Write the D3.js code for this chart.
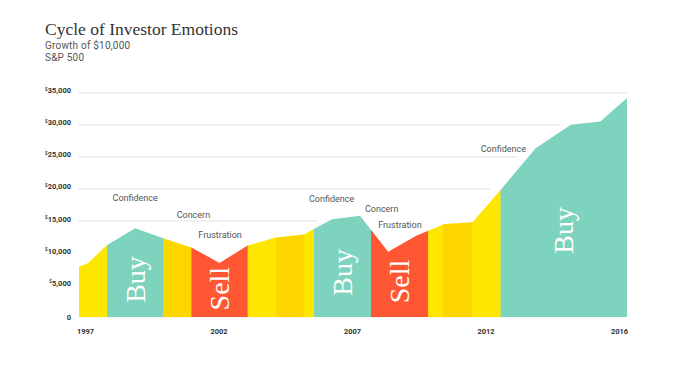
<!DOCTYPE html>
<html>
<head>
<meta charset="utf-8">
<script src="https://cdn.jsdelivr.net/npm/d3@7"></script>
<style>
  body { margin: 0; background: #fff; }
  svg { display: block; }
</style>
</head>
<body>
<svg id="chart" width="675" height="366"></svg>
<script>
// growth of $10,000
const years = [1997, 1997.33, 1998, 1999, 2000, 2001, 2002, 2003, 2004, 2005, 2006, 2007, 2008, 2009, 2010, 2011, 2012, 2013.25, 2014.5, 2015.55, 2016.5];
const values = [7860, 8480, 11250, 13860, 12300, 10890, 8480, 11170, 12420, 12920, 15270, 15830, 10200, 12700, 14530, 14800, 19840, 26360, 30000, 30520, 34170];

// coloured phases
const bandFrom = [1997, 1998, 2000, 2001, 2003, 2004, 2005, 2005.36, 2007.39, 2009.42, 2009.95, 2011, 2012];
const bandTo = [1998, 2000, 2001, 2003, 2004, 2005, 2005.36, 2007.39, 2009.42, 2009.95, 2011, 2012, 2016.5];
const bandKind = ["hold", "buy", "wait", "sell", "hold", "wait", "hold", "buy", "sell", "hold", "wait", "hold", "buy"];

// emotion notes
const noteText = ["Confidence", "Concern", "Frustration", "Confidence", "Concern", "Frustration", "Confidence"];
const noteYear = [1999, 2001.07, 2002.02, 2005.99, 2007.77, 2008.42, 2012.1];
const noteValue = [18600, 15950, 12830, 18440, 16880, 14390, 26230];

const yTicks = [0, 5000, 10000, 15000, 20000, 25000, 30000, 35000];
const yearLabels = ["1997", "2002", "2007", "2012", "2016"];

const kindColor = { hold: "#ffe600", wait: "#fdd600", buy: "#7dd3be", sell: "#ff5634" };
const kindLabel = { buy: "Buy", sell: "Sell" };

let svg = d3.select("#chart");
let data = years.map((y, i) => ({ year: y, value: values[i] }));

let x = d3.scaleLinear().domain([1997, 2016.5]).range([79, 627]);
let y = d3.scaleLinear().domain([0, 35000]).range([317.3, 92.7]);

// value on the line at a given year
function valueAt(yr) {
  let i = d3.bisectRight(years, yr);
  if (i <= 0) return values[0];
  if (i >= years.length) return values[values.length - 1];
  let t = (yr - years[i - 1]) / (years[i] - years[i - 1]);
  return values[i - 1] + t * (values[i] - values[i - 1]);
}

// first x where the line reaches a value
function firstCrossing(v) {
  for (let i = 1; i < data.length; i++) {
    if (data[i - 1].value <= v && data[i].value >= v) {
      let t = (v - data[i - 1].value) / (data[i].value - data[i - 1].value);
      return x(data[i - 1].year + t * (data[i].year - data[i - 1].year));
    }
  }
  return null;
}

// title
svg.append("text").attr("x", 45).attr("y", 35)
  .style("font-family", "'Liberation Serif', serif").style("font-size", "17.5px").style("fill", "#333")
  .text("Cycle of Investor Emotions");
svg.append("text").attr("x", 45).attr("y", 49)
  .style("font-family", "Roboto, sans-serif").style("font-size", "10px").style("letter-spacing", "0.2px").style("fill", "#555")
  .text("Growth of $10,000");
svg.append("text").attr("x", 45).attr("y", 61)
  .style("font-family", "Roboto, sans-serif").style("font-size", "10px").style("letter-spacing", "0.2px").style("fill", "#555")
  .text("S&P 500");

// gridlines stop short of the area
svg.append("g").selectAll("line")
  .data(yTicks.filter(d => d > 0))
  .enter()
  .append("line")
  .attr("x1", 78)
  .attr("x2", d => { let c = firstCrossing(d); return c === null ? x.range()[1] : c - 11; })
  .attr("y1", d => y(d))
  .attr("y2", d => y(d))
  .style("stroke", "#ececec")
  .style("stroke-width", 1.5)
  .style("display", function(d) { let c = firstCrossing(d); return c !== null && c - 11 - 78 < 20 ? "none" : null; });

// y axis labels
let yAxis = svg.append("g").attr("transform", "translate(71,0)")
  .call(d3.axisLeft(y).tickValues(yTicks).tickSize(0).tickPadding(0));
yAxis.select(".domain").remove();
yAxis.selectAll("text")
  .style("font-family", "Roboto, sans-serif").style("font-size", "7.5px").style("font-weight", "bold").style("fill", "#333")
  .text("")
  .each(function(d) {
    let t = d3.select(this);
    if (d > 0) t.append("tspan").style("font-size", "4.5px").attr("dy", "-2.5").text("$");
    t.append("tspan").attr("dy", d > 0 ? "2.5" : null).text(d3.format(",")(d));
  });

// x axis labels, spread evenly as in the original
let xLabels = d3.scalePoint().domain(yearLabels).range([85, 619]);
let xAxis = svg.append("g").attr("transform", "translate(0,329)")
  .call(d3.axisBottom(xLabels).tickSize(0).tickPadding(0));
xAxis.select(".domain").remove();
xAxis.selectAll("text")
  .style("font-family", "Roboto, sans-serif").style("font-size", "7.5px").style("font-weight", "bold").style("fill", "#333");

// area as a clip, bands inside it
let area = d3.area().x(d => x(d.year)).y0(y(0)).y1(d => y(d.value));
svg.append("clipPath").attr("id", "areaClip")
  .append("path").attr("d", area(data));

let bands = bandFrom.map((f, i) => ({ from: f, to: bandTo[i], kind: bandKind[i] }));
svg.append("g").attr("clip-path", "url(#areaClip)")
  .selectAll("rect")
  .data(bands)
  .enter()
  .append("rect")
  .attr("x", d => x(d.from))
  .attr("width", d => x(d.to) - x(d.from) + 0.5)
  .attr("y", y.range()[1] - 10)
  .attr("height", y(0) - y.range()[1] + 10)
  .style("fill", d => kindColor[d.kind]);

// Buy / Sell words
svg.append("g").selectAll("text")
  .data(bands.filter(d => kindLabel[d.kind]))
  .enter()
  .append("text")
  .attr("transform", d => {
    let mid = (d.from + d.to) / 2;
    let avg = d3.mean(d3.range(11), k => valueAt(d.from + k / 10 * (d.to - d.from)));
    let cy = (y(avg) + y(0)) / 2 + 3;
    return "translate(" + (x(mid) + 9.5) + "," + cy + ") rotate(-90)";
  })
  .attr("text-anchor", "middle")
  .style("font-family", "'Liberation Serif', serif").style("font-size", "28px").style("fill", "#fff")
  .text(d => kindLabel[d.kind]);

// emotion notes
svg.append("g").selectAll("text")
  .data(noteText.map((t, i) => ({ text: t, year: noteYear[i], value: noteValue[i] })))
  .enter()
  .append("text")
  .attr("x", d => x(d.year))
  .attr("y", d => y(d.value))
  .attr("text-anchor", "middle")
  .attr("dominant-baseline", "central")
  .style("font-family", "Roboto, sans-serif").style("font-size", "9px").style("fill", "#555")
  .text(d => d.text);
</script>
</body>
</html>
